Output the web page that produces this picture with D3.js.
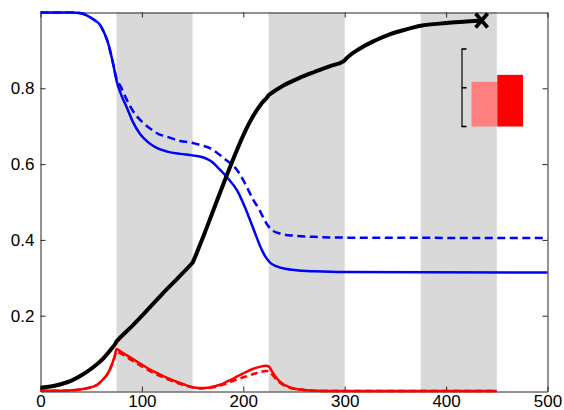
<!DOCTYPE html>
<html>
<head>
<meta charset="utf-8">
<script src="https://cdn.jsdelivr.net/npm/d3@7"></script>
<style>
  body { margin: 0; background: #fff; }
  svg { display: block; font-family: "Liberation Sans", Arial, Helvetica, sans-serif; }
</style>
</head>
<body>
<svg id="chart" width="564" height="410"></svg>
<script>
// Axis ticks
const xTicks = [0, 100, 200, 300, 400, 500];
const yTicks = [0.2, 0.4, 0.6, 0.8];

// Shaded intervals
const bandStart = [75, 225, 375];
const bandEnd = [150, 300, 450];

// Cumulative curve (black)
const tBlack = [0, 10, 20, 30, 40, 50, 60, 70, 74, 75, 76, 90, 105, 120, 135, 149, 150, 151, 160, 170, 180, 190, 200, 210, 218, 224, 225, 226, 240, 255, 270, 285, 299, 300, 301, 315, 330, 345, 360, 375, 400, 420, 435];
const vBlack = [0.010, 0.013, 0.019, 0.028, 0.042, 0.060, 0.082, 0.113, 0.127, 0.132, 0.135, 0.172, 0.214, 0.257, 0.298, 0.337, 0.340, 0.346, 0.405, 0.475, 0.545, 0.613, 0.676, 0.728, 0.760, 0.778, 0.782, 0.784, 0.808, 0.827, 0.843, 0.858, 0.872, 0.874, 0.877, 0.905, 0.926, 0.943, 0.955, 0.965, 0.972, 0.976, 0.979];

// Blue, solid
const tBlueSolid = [0, 30, 40, 46, 52, 59, 63, 66, 69, 72, 75, 80, 85, 91, 98, 106, 115, 125, 138, 150, 160, 168, 176, 185, 194, 201, 207, 213, 218, 222, 226, 233, 243, 255, 270, 300, 500];
const vBlueSolid = [1.0, 1.0, 0.998, 0.992, 0.982, 0.966, 0.945, 0.925, 0.895, 0.860, 0.820, 0.780, 0.750, 0.712, 0.680, 0.658, 0.642, 0.633, 0.627, 0.623, 0.618, 0.608, 0.588, 0.562, 0.530, 0.490, 0.450, 0.408, 0.375, 0.355, 0.341, 0.330, 0.323, 0.319, 0.317, 0.315, 0.314];

// Blue, dashed
const tBlueDash = [0, 30, 40, 46, 52, 59, 63, 66, 69, 72, 75, 79, 85, 92, 100, 108, 116, 125, 138, 148, 158, 167, 175, 183, 190, 197, 203, 210, 216, 221, 225, 230, 236, 250, 270, 300, 500];
const vBlueDash = [1.0, 1.0, 0.998, 0.992, 0.982, 0.966, 0.945, 0.925, 0.895, 0.860, 0.825, 0.805, 0.770, 0.737, 0.712, 0.694, 0.680, 0.672, 0.661, 0.657, 0.650, 0.642, 0.628, 0.611, 0.596, 0.572, 0.542, 0.505, 0.479, 0.452, 0.435, 0.423, 0.417, 0.411, 0.408, 0.406, 0.405];

// Red, solid
const tRedSolid = [0, 20, 35, 45, 52, 56, 61, 66, 70, 73, 75, 77, 80, 86, 92, 100, 108, 117, 125, 133, 141, 150, 157, 165, 172, 180, 187, 195, 203, 210, 216, 222, 225, 229, 233, 238, 246, 256, 270, 300, 450];
const vRedSolid = [0.002, 0.002, 0.004, 0.008, 0.013, 0.018, 0.030, 0.046, 0.068, 0.092, 0.112, 0.109, 0.104, 0.094, 0.084, 0.071, 0.058, 0.046, 0.036, 0.027, 0.019, 0.011, 0.009, 0.010, 0.014, 0.021, 0.030, 0.041, 0.052, 0.060, 0.065, 0.068, 0.066, 0.050, 0.035, 0.022, 0.011, 0.005, 0.002, 0.001, 0.001];

// Red, dashed
const tRedDash = [0, 20, 35, 45, 52, 56, 61, 66, 70, 73, 75, 77, 80, 86, 92, 100, 108, 117, 125, 133, 141, 150, 157, 165, 172, 180, 187, 195, 203, 210, 216, 222, 225, 229, 233, 238, 246, 256, 270, 300, 450];
const vRedDash = [0.002, 0.002, 0.004, 0.008, 0.013, 0.018, 0.030, 0.046, 0.068, 0.090, 0.106, 0.103, 0.099, 0.089, 0.079, 0.066, 0.054, 0.042, 0.033, 0.024, 0.017, 0.011, 0.008, 0.009, 0.012, 0.018, 0.025, 0.033, 0.040, 0.046, 0.051, 0.054, 0.054, 0.043, 0.031, 0.020, 0.010, 0.005, 0.002, 0.001, 0.001];

// End marker of the black curve
const markT = [435];
const markV = [0.979];

// Inset bar pair
const insetNames = ["a", "b"];
const insetValues = [0.57, 0.66];
const insetColors = ["#ff8080", "#ff0000"];
const insetTicks = [0, 0.5, 1];

const svg = d3.select("#chart");
const x = d3.scaleLinear().domain([0, 500]).range([40.5, 547.5]);
const y = d3.scaleLinear().domain([0, 1]).range([391.5, 12.5]);

// Shaded bands
svg.append("g").selectAll("rect")
  .data(bandStart.map((s, i) => [s, bandEnd[i]]))
  .join("rect")
  .attr("x", d => x(d[0]))
  .attr("width", d => x(d[1]) - x(d[0]))
  .attr("y", y(1))
  .attr("height", y(0) - y(1))
  .attr("fill", "#d9d9d9");

// Axes with inward ticks on all four sides
const axisColor = "#262626";
function styleAxis(g) {
  g.select(".domain").attr("stroke", axisColor).attr("stroke-width", 1);
  g.selectAll(".tick line").attr("stroke", axisColor);
  g.selectAll(".tick text").attr("fill", "#000").attr("font-size", 17)
    .attr("font-family", "Liberation Sans, Arial, sans-serif");
}
svg.append("g").attr("transform", `translate(0,${y(0)})`)
  .call(d3.axisBottom(x).tickValues(xTicks).tickSizeInner(-5).tickSizeOuter(0).tickPadding(3).tickFormat(d3.format("d")))
  .call(styleAxis);
svg.append("g").attr("transform", `translate(0,${y(1)})`)
  .call(d3.axisTop(x).tickValues(xTicks).tickSizeInner(-5).tickSizeOuter(0).tickFormat(""))
  .call(styleAxis);
svg.append("g").attr("transform", `translate(${x(0)},0)`)
  .call(d3.axisLeft(y).tickValues(yTicks).tickSizeInner(-5).tickSizeOuter(0).tickPadding(6).tickFormat(d3.format(".1f")))
  .call(styleAxis);
svg.append("g").attr("transform", `translate(${x(500)},0)`)
  .call(d3.axisRight(y).tickValues(yTicks).tickSizeInner(-5).tickSizeOuter(0).tickFormat(""))
  .call(styleAxis);

// Curves
const lineGen = d3.line().x(d => x(d[0])).y(d => y(d[1])).curve(d3.curveMonotoneX);
const zip = (t, v) => t.map((ti, i) => [ti, v[i]]);
const series = [
  { t: tRedDash, v: vRedDash, color: "#ff0000", width: 2.5, dash: "7,4" },
  { t: tRedSolid, v: vRedSolid, color: "#ff0000", width: 2.5, dash: null },
  { t: tBlueDash, v: vBlueDash, color: "#0000ff", width: 2.5, dash: "8,4.5" },
  { t: tBlueSolid, v: vBlueSolid, color: "#0000ff", width: 2.5, dash: null },
  { t: tBlack, v: vBlack, color: "#000000", width: 4, dash: null }
];
svg.append("g").selectAll("path")
  .data(series)
  .join("path")
  .attr("d", d => lineGen(zip(d.t, d.v)))
  .attr("fill", "none")
  .attr("stroke", d => d.color)
  .attr("stroke-width", d => d.width)
  .attr("stroke-dasharray", d => d.dash)
  .attr("stroke-linejoin", "round");

// X marker at the end of the black curve
const mk = svg.append("g").selectAll("g").data(markT.map((t, i) => [t, markV[i]])).join("g")
  .attr("transform", d => `translate(${x(d[0])},${y(d[1])})`);
mk.append("path")
  .attr("d", "M-6,-7L6,7M-6,7L6,-7")
  .attr("stroke", "#000").attr("stroke-width", 3.8).attr("fill", "none");

// Inset bar pair with its own vertical scale
const inY = d3.scaleLinear().domain([0, 1]).range([126, 48.5]);
const inX = d3.scaleBand().domain(insetNames).range([471.5, 523]).padding(0);
const inset = svg.append("g");
inset.selectAll("rect").data(insetValues).join("rect")
  .attr("x", (d, i) => inX(insetNames[i]))
  .attr("width", inX.bandwidth())
  .attr("y", d => inY(d))
  .attr("height", d => inY(0) - inY(d) + 0.5)
  .attr("fill", (d, i) => insetColors[i]);
const inAxis = inset.append("g").attr("transform", "translate(461.5,0)")
  .call(d3.axisRight(inY).tickValues(insetTicks).tickSize(5).tickSizeOuter(0).tickFormat(""));
inAxis.select(".domain").attr("stroke", "#000").attr("stroke-width", 1.2);
inAxis.selectAll(".tick line").attr("stroke", "#000").attr("stroke-width", 1.6);
</script>
</body>
</html>
